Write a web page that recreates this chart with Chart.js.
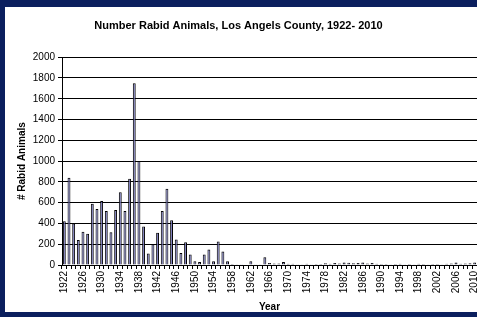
<!DOCTYPE html>
<html>
<head>
<meta charset="utf-8">
<script src="https://cdn.jsdelivr.net/npm/chart.js@4"></script>
<style>
  html, body { margin: 0; padding: 0; background: #0b1f5e; }
  canvas { display: block; }
</style>
</head>
<body>
<canvas id="chart" width="477" height="317"></canvas>
<script>
const years = [];
for (let y = 1922; y <= 2010; y++) years.push(String(y));

// rabid animals per year
const counts = [
    420, 840, 400, 240, 320, 300, 590, 540, 615, 520,   // 1922-1931
    315, 530, 700, 520, 830, 1750, 1000, 370, 110, 200, // 1932-1941
    310, 520, 735, 430, 245, 115, 220, 100, 35, 28,     // 1942-1951
    100, 150, 35, 225, 130, 35, 10, 3, 2, 5,            // 1952-1961
    35, 8, 8, 75, 20, 15, 15, 28, 12, 12,               // 1962-1971
    8, 8, 12, 8, 10, 10, 18, 12, 20, 15,                // 1972-1981
    25, 22, 18, 20, 25, 15, 20, 12, 10, 10,             // 1982-1991
    8, 10, 12, 8, 10, 8, 12, 10, 8, 10,                 // 1992-2001
    10, 8, 12, 15, 25, 12, 15, 18, 25                   // 2002-2010
];

const yTicks = [0, 200, 400, 600, 800, 1000, 1200, 1400, 1600, 1800, 2000];

const FONT = 'Arial, "Liberation Sans", sans-serif';

const framePlugin = {
    id: 'frame',
    beforeDraw(chart) {
        const c = chart.ctx;
        c.save();
        c.fillStyle = '#0b1f5e';
        c.fillRect(0, 0, chart.width, chart.height);
        c.fillStyle = '#ffffff';
        c.fillRect(5, 7, chart.width + 10, 305);
        c.restore();
    }
};

new Chart(document.getElementById('chart'), {
    type: 'bar',
    data: {
        labels: years,
        datasets: [{
            data: counts,
            backgroundColor: '#7373b8',
            borderColor: '#000000',
            borderWidth: 1,
            barPercentage: 0.62,
            categoryPercentage: 1.0
        }]
    },
    options: {
        responsive: false,
        animation: false,
        devicePixelRatio: 1,
        layout: { padding: 0 },
        plugins: {
            legend: { display: false },
            tooltip: { enabled: false },
            title: {
                display: true,
                text: 'Number Rabid Animals, Los Angels County, 1922- 2010',
                color: '#000',
                font: { family: FONT, size: 11, weight: 'bold' },
                padding: { top: 19, bottom: 25 }
            }
        },
        scales: {
            x: {
                grid: {
                    display: true,
                    drawOnChartArea: false,
                    drawTicks: true,
                    tickLength: 4,
                    color: '#000'
                },
                border: { color: '#000', width: 1 },
                ticks: {
                    autoSkip: false,
                    maxRotation: 90,
                    minRotation: 90,
                    padding: 2,
                    color: '#000',
                    font: { family: FONT, size: 10 },
                    callback: function (val, i) {
                        return (i % 4 === 0) ? years[i] : '';
                    }
                },
                title: {
                    display: true,
                    text: 'Year',
                    color: '#000',
                    font: { family: FONT, size: 10, weight: 'bold' },
                    padding: { top: 0, bottom: 4 }
                },
                afterFit(scale) {
                    scale.height = 52;
                    scale.paddingLeft = 0;
                    scale.paddingRight = 0;
                }
            },
            y: {
                min: 0,
                max: 2000,
                afterBuildTicks(scale) {
                    scale.ticks = yTicks.map(v => ({ value: v }));
                },
                grid: {
                    color: '#000',
                    lineWidth: 1,
                    tickLength: 4
                },
                border: { color: '#000', width: 1 },
                ticks: {
                    padding: 3,
                    color: '#000',
                    font: { family: FONT, size: 10 },
                    callback: v => String(v)
                },
                title: {
                    display: true,
                    text: '# Rabid Animals',
                    color: '#000',
                    font: { family: FONT, size: 10, weight: 'bold' },
                    padding: { top: 16, bottom: 0 }
                },
                afterFit(scale) {
                    scale.width = 62;
                    scale.paddingTop = 0;
                    scale.paddingBottom = 0;
                }
            }
        }
    },
    plugins: [framePlugin]
});
</script>
</body>
</html>
